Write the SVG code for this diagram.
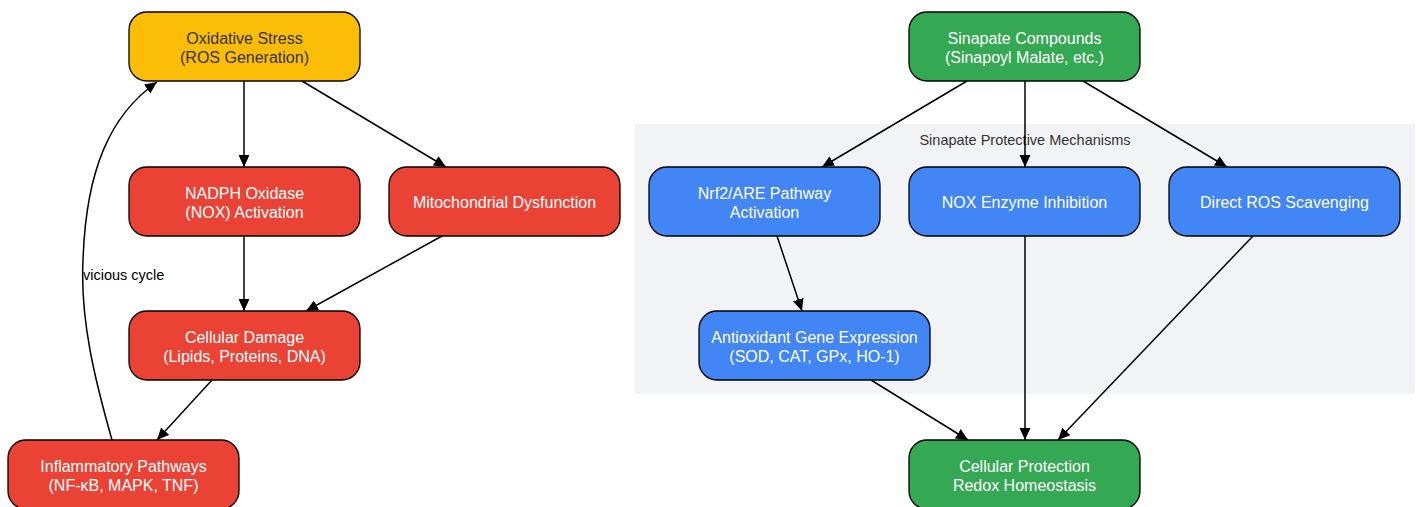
<svg xmlns="http://www.w3.org/2000/svg" width="1417" height="507" viewBox="0 0 1417 507">
<style>
.n{stroke:#000;stroke-width:1.3}
.t{font-family:"Liberation Sans",Arial,sans-serif;font-size:16px;text-anchor:middle;fill:#fff}
.e{fill:none;stroke:#000;stroke-width:1.5}
.red{fill:#EA4335}.blue{fill:#4285F4}.green{fill:#34A853}.yellow{fill:#FBBC05}
</style>
<defs>
<marker id="a" viewBox="0 0 12 12" refX="12" refY="6" markerWidth="12" markerHeight="12" markerUnits="userSpaceOnUse" orient="auto">
<path d="M0,0.5 L12,6 L0,11.5 z" fill="#000"/>
</marker>
</defs>
<rect x="635" y="124" width="780" height="270" fill="#F1F3F4"/>
<text x="1025" y="145" font-family="Liberation Sans,Arial,sans-serif" font-size="14.5" text-anchor="middle" fill="#333">Sinapate Protective Mechanisms</text>
<g id="connectors">
<path class="e" d="M244,81 L244,167" marker-end="url(#a)"/>
<path class="e" d="M302,81 L446,167" marker-end="url(#a)"/>
<path class="e" d="M244,236 L244,311" marker-end="url(#a)"/>
<path class="e" d="M442,236 L306,311" marker-end="url(#a)"/>
<path class="e" d="M212,380 L157,440" marker-end="url(#a)"/>
<path class="e" d="M112,440 C95,380 80,320 83,260 C86,170 110,115 157,82" marker-end="url(#a)"/>
<path class="e" d="M967,81 L822,167" marker-end="url(#a)"/>
<path class="e" d="M1025,81 L1025,167" marker-end="url(#a)"/>
<path class="e" d="M1083,81 L1227,167" marker-end="url(#a)"/>
<path class="e" d="M777,236 L802,311" marker-end="url(#a)"/>
<path class="e" d="M871,380 L968,440" marker-end="url(#a)"/>
<path class="e" d="M1025,236 L1025,440" marker-end="url(#a)"/>
<path class="e" d="M1253,236 L1058,440" marker-end="url(#a)"/>
<text x="83" y="280" font-family="Liberation Sans,Arial,sans-serif" font-size="14.5" fill="#000">vicious cycle</text>
</g>
<g id="oxidative"><rect class="n yellow" x="129" y="12" width="231" height="69" rx="18"/><text class="t" style="fill:#333" x="244.5" y="43.5">Oxidative Stress</text><text class="t" style="fill:#333" x="244.5" y="62.5">(ROS Generation)</text></g>
<g id="nadph"><rect class="n red" x="129" y="167" width="231" height="69" rx="18"/><text class="t" x="244.5" y="198.5">NADPH Oxidase</text><text class="t" x="244.5" y="217.5">(NOX) Activation</text></g>
<g id="mito"><rect class="n red" x="389" y="167" width="231" height="69" rx="18"/><text class="t" x="504.5" y="208">Mitochondrial Dysfunction</text></g>
<g id="damage"><rect class="n red" x="129" y="311" width="231" height="69" rx="18"/><text class="t" x="244.5" y="342.5">Cellular Damage</text><text class="t" x="244.5" y="361.5">(Lipids, Proteins, DNA)</text></g>
<g id="inflam"><rect class="n red" x="8" y="440" width="231" height="69" rx="18"/><text class="t" x="123.5" y="471.5">Inflammatory Pathways</text><text class="t" x="123.5" y="490.5">(NF-κB, MAPK, TNF)</text></g>
<g id="sinapate"><rect class="n green" x="909" y="12" width="231" height="69" rx="18"/><text class="t" x="1024.5" y="43.5">Sinapate Compounds</text><text class="t" x="1024.5" y="62.5">(Sinapoyl Malate, etc.)</text></g>
<g id="nrf2"><rect class="n blue" x="649" y="167" width="231" height="69" rx="18"/><text class="t" x="764.5" y="198.5">Nrf2/ARE Pathway</text><text class="t" x="764.5" y="217.5">Activation</text></g>
<g id="nox"><rect class="n blue" x="909" y="167" width="231" height="69" rx="18"/><text class="t" x="1024.5" y="208">NOX Enzyme Inhibition</text></g>
<g id="direct"><rect class="n blue" x="1169" y="167" width="231" height="69" rx="18"/><text class="t" x="1284.5" y="208">Direct ROS Scavenging</text></g>
<g id="antiox"><rect class="n blue" x="699" y="311" width="231" height="69" rx="18"/><text class="t" x="814.5" y="342.5">Antioxidant Gene Expression</text><text class="t" x="814.5" y="361.5">(SOD, CAT, GPx, HO-1)</text></g>
<g id="protection"><rect class="n green" x="909" y="440" width="231" height="69" rx="18"/><text class="t" x="1024.5" y="471.5">Cellular Protection</text><text class="t" x="1024.5" y="490.5">Redox Homeostasis</text></g>
</svg>
